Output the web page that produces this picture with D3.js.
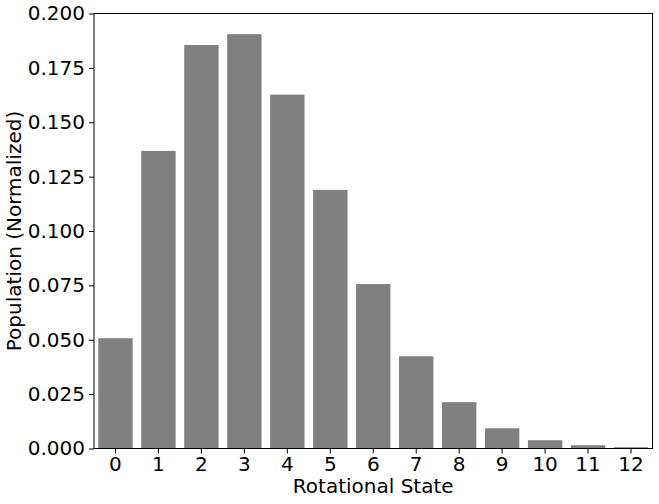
<!doctype html>
<html>
<head>
<meta charset="utf-8">
<script src="https://cdn.jsdelivr.net/npm/d3@7"></script>
<style>
  body { margin: 0; background: #fff; }
  .chart { font-family: 'DejaVu Sans', sans-serif; }
  .tick text { font-family: 'DejaVu Sans', sans-serif; font-size: 20px; fill: #000; }
  .axis-label { font-family: 'DejaVu Sans', sans-serif; font-size: 20px; fill: #000; }
</style>
</head>
<body>
<svg class="chart"></svg>
<script>
  const states = ["0","1","2","3","4","5","6","7","8","9","10","11","12"]
  const population = [0.0507, 0.1368, 0.1855, 0.1905, 0.1627, 0.1189, 0.0756,
                      0.0424, 0.0213, 0.0093, 0.0038, 0.0015, 0.0006]
  const yTicks = [0, 0.025, 0.05, 0.075, 0.1, 0.125, 0.15, 0.175, 0.2]

  const margin = { left: 94, top: 13.5, right: 6.5, bottom: 55.5 },
        width = 659 - margin.left - margin.right,
        height = 504 - margin.top - margin.bottom

  const svg = d3.select(".chart")
    .attr("width", 659)
    .attr("height", 504)

  const chart = svg.append("g")
    .attr("transform", "translate(" + margin.left + "," + margin.top + ")")

  const xScale = d3.scaleBand()
    .domain(states)
    .range([0, width])
    .paddingInner(0.2)
    .paddingOuter(0.1)

  const yScale = d3.scaleLinear()
    .domain([0, 0.2])
    .range([height, 0])

  chart.selectAll(".bar")
    .data(population)
    .enter().append("rect")
      .attr("class", "bar")
      .attr("x", (d, i) => xScale(states[i]))
      .attr("y", d => yScale(d))
      .attr("width", xScale.bandwidth())
      .attr("height", d => height - yScale(d))
      .attr("fill", "#808080")

  const yAxis = d3.axisLeft(yScale)
    .tickValues(yTicks)
    .tickFormat(d3.format(".3f"))
    .tickSize(5)
    .tickPadding(4)

  const xAxis = d3.axisBottom(xScale)
    .tickSize(5)
    .tickPadding(3)

  const gy = chart.append("g").call(yAxis)
  const gx = chart.append("g").attr("transform", "translate(0," + height + ")").call(xAxis)
  gy.select(".domain").remove()
  gx.select(".domain").remove()
  chart.selectAll(".tick line").attr("stroke", "#000").attr("stroke-width", 1)

  // frame
  chart.append("rect")
    .attr("width", width)
    .attr("height", height)
    .attr("fill", "none")
    .attr("stroke", "#000")
    .attr("stroke-width", 1)

  svg.append("text")
    .attr("class", "axis-label")
    .attr("text-anchor", "middle")
    .attr("x", margin.left + width / 2)
    .attr("y", 493)
    .text("Rotational State")

  svg.append("text")
    .attr("class", "axis-label")
    .attr("text-anchor", "middle")
    .attr("transform", "translate(21," + (margin.top + height / 2) + ") rotate(-90)")
    .text("Population (Normalized)")
</script>
</body>
</html>
